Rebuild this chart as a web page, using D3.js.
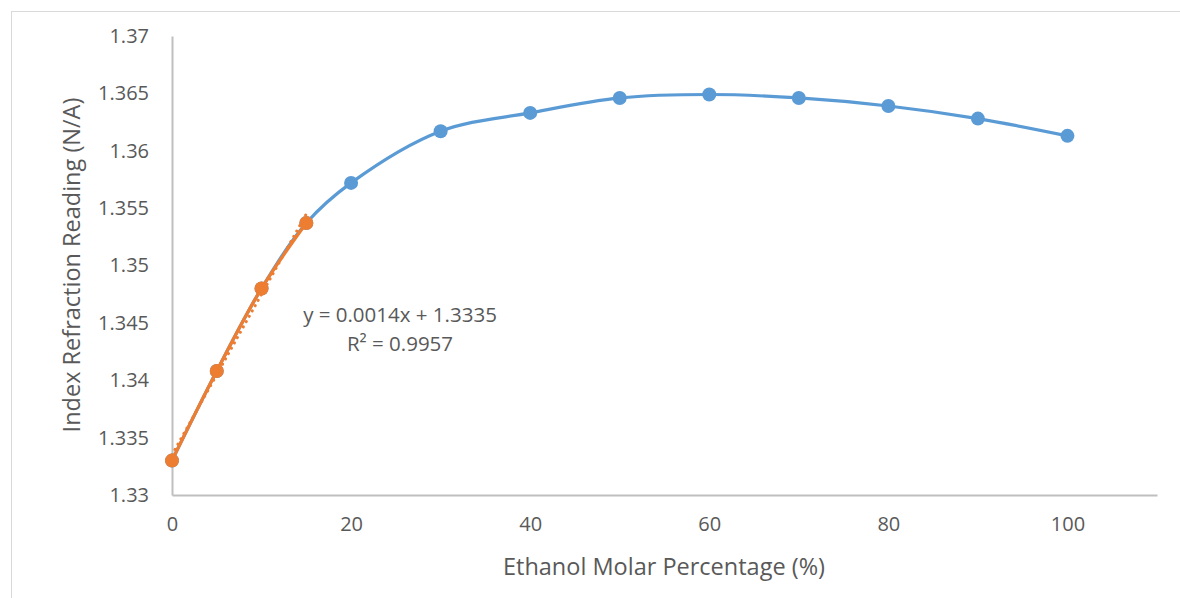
<!DOCTYPE html>
<html>
<head>
<meta charset="utf-8">
<script src="https://cdn.jsdelivr.net/npm/d3@7"></script>
<style>
  body { margin: 0; background: #fff; }
  svg text { font-family: "Open Sans", "Noto Sans", sans-serif; fill: #595959; }
</style>
</head>
<body>
<div id="chart"></div>
<script>
// ethanol molar % vs refractive index
const molarPct = [0, 5, 10, 15, 20, 30, 40, 50, 60, 70, 80, 90, 100];
const indexAll = [1.333, 1.3408, 1.348, 1.3537, 1.3572, 1.3617, 1.3633, 1.3646, 1.3649, 1.3646, 1.3639, 1.3628, 1.3613];
const linPct = [0, 5, 10, 15];
const linIndex = [1.333, 1.3408, 1.348, 1.3537];
const trend = { slope: 0.0014, intercept: 1.3335 };
const xTicks = [0, 20, 40, 60, 80, 100];
const yTicks = [1.33, 1.335, 1.34, 1.345, 1.35, 1.355, 1.36, 1.365, 1.37];

const width = 1180, height = 598;
const margin = { top: 36, right: 23, bottom: 103, left: 172 };

const svg = d3.select('#chart').append('svg')
  .attr('width', width).attr('height', height);

// chart frame
svg.append('rect')
  .attr('x', 11.5).attr('y', 11.5)
  .attr('width', width + 20).attr('height', height + 20)
  .attr('fill', 'none').attr('stroke', '#d9d9d9');

const x = d3.scaleLinear().domain([0, 110]).range([margin.left, width - margin.right]);
const y = d3.scaleLinear().domain([1.33, 1.37]).range([height - margin.bottom, margin.top]);

// axes
svg.append('g')
  .attr('transform', `translate(0,${y(1.33)})`)
  .call(d3.axisBottom(x).tickValues(xTicks).tickSize(0).tickPadding(22))
  .call(g => g.select('.domain').attr('stroke', '#bfbfbf').attr('stroke-width', 2))
  .call(g => g.selectAll('text').attr('font-size', 20).style('font-family', null));

svg.append('g')
  .attr('transform', `translate(${x(0)},0)`)
  .call(d3.axisLeft(y).tickValues(yTicks).tickFormat(d => d3.format('')(+d.toFixed(3))).tickSize(0).tickPadding(23))
  .call(g => g.select('.domain').attr('stroke', '#bfbfbf').attr('stroke-width', 2))
  .call(g => g.selectAll('text').attr('font-size', 20).style('font-family', null));

const pts = molarPct.map((d, i) => [d, indexAll[i]]);
const linPts = linPct.map((d, i) => [d, linIndex[i]]);

const line = d3.line().x(d => x(d[0])).y(d => y(d[1])).curve(d3.curveCatmullRom.alpha(0.5));

svg.append('path').datum(pts)
  .attr('d', line).attr('fill', 'none')
  .attr('stroke', '#5b9bd5').attr('stroke-width', 3.2).attr('stroke-linecap', 'round');

svg.append('g').selectAll('circle').data(pts).join('circle')
  .attr('cx', d => x(d[0])).attr('cy', d => y(d[1])).attr('r', 7)
  .attr('fill', '#5b9bd5');

// linear trend line (dotted)
svg.append('line')
  .attr('x1', x(0)).attr('y1', y(trend.intercept))
  .attr('x2', x(15)).attr('y2', y(trend.intercept + trend.slope * 15))
  .attr('stroke', '#ed7d31').attr('stroke-width', 3)
  .attr('stroke-dasharray', '0.1 6').attr('stroke-linecap', 'round');

svg.append('path').datum(linPts)
  .attr('d', line).attr('fill', 'none')
  .attr('stroke', '#ed7d31').attr('stroke-width', 3.2).attr('stroke-linecap', 'round');

svg.append('g').selectAll('circle').data(linPts).join('circle')
  .attr('cx', d => x(d[0])).attr('cy', d => y(d[1])).attr('r', 7)
  .attr('fill', '#ed7d31');

// trend label
const lbl = svg.append('text').attr('text-anchor', 'middle').attr('font-size', 20.5);
lbl.append('tspan').attr('x', 400).attr('y', 322).text('y = 0.0014x + 1.3335');
lbl.append('tspan').attr('x', 400).attr('y', 351).text('R² = 0.9957');

// axis titles
svg.append('text')
  .attr('x', 664).attr('y', 575)
  .attr('text-anchor', 'middle').attr('font-size', 23.5)
  .text('Ethanol Molar Percentage (%)');

svg.append('text')
  .attr('transform', `translate(80,265) rotate(-90)`)
  .attr('text-anchor', 'middle').attr('font-size', 23.5)
  .text('Index Refraction Reading (N/A)');
</script>
</body>
</html>
